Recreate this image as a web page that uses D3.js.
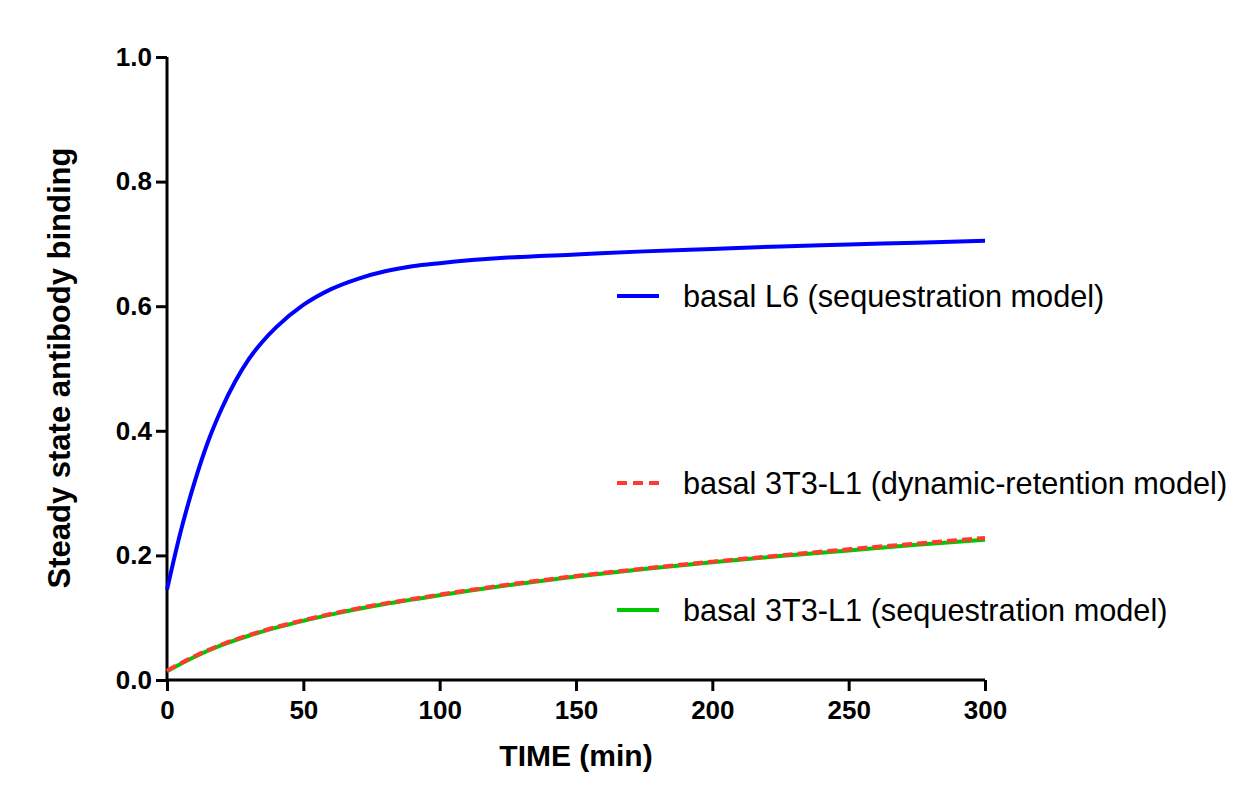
<!DOCTYPE html>
<html>
<head>
<meta charset="utf-8">
<script src="https://cdn.jsdelivr.net/npm/d3@7"></script>
<style>
  body { margin: 0; background: #fff; }
  svg text { font-family: "Liberation Sans", Arial, sans-serif; }
</style>
</head>
<body>
<svg width="1252" height="794"></svg>
<script>
// values
const timeL6 = [0, 5, 10, 15, 20, 25, 30, 35, 40, 50, 60, 70, 80, 90, 100, 125, 150, 175, 200, 225, 250, 275, 300];
const l6Seq = [0.145, 0.238, 0.316, 0.382, 0.435, 0.479, 0.515, 0.543, 0.566, 0.602, 0.627, 0.644, 0.656, 0.664, 0.669, 0.678, 0.683, 0.688, 0.692, 0.696, 0.699, 0.702, 0.705];

const time3T3 = [0, 10, 20, 30, 40, 50, 60, 70, 80, 90, 100, 125, 150, 175, 200, 225, 250, 275, 300];
const t3Seq = [0.014, 0.037, 0.056, 0.071, 0.084, 0.095, 0.105, 0.114, 0.122, 0.129, 0.136, 0.152, 0.166, 0.178, 0.189, 0.199, 0.208, 0.217, 0.225];
const t3Dyn = [0.015, 0.038, 0.057, 0.072, 0.085, 0.096, 0.106, 0.115, 0.123, 0.130, 0.137, 0.153, 0.167, 0.179, 0.190, 0.200, 0.210, 0.219, 0.228];

const xTicks = [0, 50, 100, 150, 200, 250, 300];
const yTicks = [0, 0.2, 0.4, 0.6, 0.8, 1.0];

const legendItems = [
  { label: "basal L6 (sequestration model)", color: "#0000ff", dash: null, y: 296 },
  { label: "basal 3T3-L1 (dynamic-retention model)", color: "#ff3b30", dash: "10,6", y: 483 },
  { label: "basal 3T3-L1 (sequestration model)", color: "#00c800", dash: null, y: 610 }
];

let svg = d3.select("svg");
let margin = {top: 57, left: 167};
let width = 818, height = 623;

let x = d3.scaleLinear().domain([0, 300]).range([0, width]),
    y = d3.scaleLinear().domain([0, 1]).range([height, 0]);

let g = svg.append("g")
  .attr("transform", "translate(" + margin.left + "," + margin.top + ")");

// axes, GraphPad style: thick lines, outward ticks
let xAxis = g.append("g")
  .attr("transform", "translate(0," + height + ")")
  .call(d3.axisBottom(x).tickValues(xTicks).tickSize(11).tickPadding(10).tickFormat(d3.format("d")));

let yAxis = g.append("g")
  .call(d3.axisLeft(y).tickValues(yTicks).tickSize(11).tickPadding(4).tickFormat(d3.format(".1f")));

[xAxis, yAxis].forEach(a => {
  a.select(".domain").attr("stroke", "#000").attr("stroke-width", 3);
  a.selectAll(".tick line").attr("stroke", "#000").attr("stroke-width", 3);
  a.selectAll(".tick text")
    .attr("fill", "#000")
    .style("font-size", "26px")
    .style("font-weight", "bold");
});
// domain path without the outer ticks
xAxis.select(".domain").attr("d", "M0,0H" + width);
yAxis.select(".domain").attr("d", "M0," + height + "V0");

let line = d3.line().curve(d3.curveMonotoneX);

function drawSeries(ts, vs, color, dash) {
  let pts = ts.map((t, i) => [x(t), y(vs[i])]);
  let p = g.append("path")
    .attr("d", line(pts))
    .attr("fill", "none")
    .attr("stroke", color)
    .attr("stroke-width", 4);
  if (dash) p.attr("stroke-dasharray", dash);
}

drawSeries(time3T3, t3Seq, "#00c800", null);
drawSeries(time3T3, t3Dyn, "#ff3b30", "10,5");
drawSeries(timeL6, l6Seq, "#0000ff", null);

// legend
let leg = svg.append("g");
legendItems.forEach(d => {
  let l = leg.append("line")
    .attr("x1", 617).attr("x2", 659)
    .attr("y1", d.y).attr("y2", d.y)
    .attr("stroke", d.color).attr("stroke-width", 4);
  if (d.dash) l.attr("stroke-dasharray", d.dash);
  leg.append("text")
    .attr("x", 683).attr("y", d.y)
    .attr("dy", "0.35em")
    .style("font-size", "30.7px")
    .text(d.label);
});

// axis titles
svg.append("text")
  .attr("x", 576).attr("y", 766)
  .attr("text-anchor", "middle")
  .style("font-size", "30px").style("font-weight", "bold")
  .text("TIME (min)");

svg.append("text")
  .attr("transform", "translate(70,368) rotate(-90)")
  .attr("text-anchor", "middle")
  .style("font-size", "31px").style("font-weight", "bold")
  .text("Steady state antibody binding");
</script>
</body>
</html>
